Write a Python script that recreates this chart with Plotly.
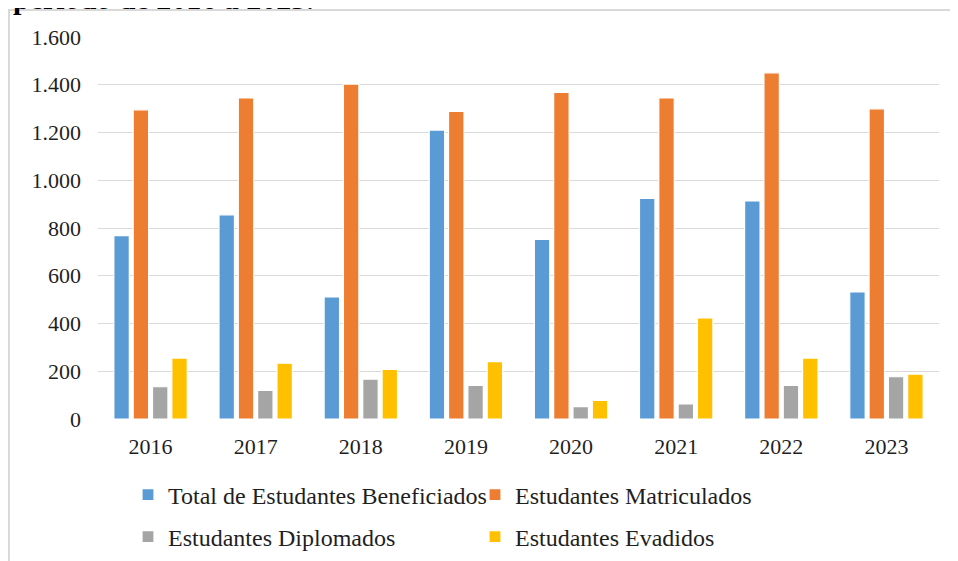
import plotly.graph_objects as go

anos = ["2016", "2017", "2018", "2019", "2020", "2021", "2022", "2023"]
beneficiados = [768, 855, 511, 1210, 752, 924, 913, 532]
matriculados = [1295, 1345, 1403, 1288, 1368, 1345, 1450, 1299]
diplomados = [135, 120, 167, 141, 52, 63, 141, 177]
evadidos = [255, 234, 208, 240, 78, 423, 255, 188]
y_ticks = [0, 200, 400, 600, 800, 1000, 1200, 1400, 1600]

series = [
    ("Total de Estudantes Beneficiados", beneficiados, "#5B9BD5", "legend"),
    ("Estudantes Matriculados", matriculados, "#ED7D31", "legend2"),
    ("Estudantes Diplomados", diplomados, "#A5A5A5", "legend3"),
    ("Estudantes Evadidos", evadidos, "#FFC000", "legend4"),
]

# the page body adds an 8px offset; work in page pixels and convert
OFF = 8
W, H = 958 - OFF, 561 - OFF
PLOT_L, PLOT_R, PLOT_T, PLOT_B = 98, 939, 37, 419   # page pixels
L = PLOT_L - OFF
R = W - (PLOT_R - OFF)
T = PLOT_T - OFF
B = H - (PLOT_B - OFF)
pw, ph = W - L - R, H - T - B

def px(xp):
    return (xp - OFF - L) / pw

def py(yp):
    return (PLOT_B - yp) / ph

FONT = "Liberation Serif, Times New Roman, serif"
TXT = "#1f1f1f"

fig = go.Figure()
for name, vals, color, lg in series:
    fig.add_trace(go.Bar(
        x=anos, y=vals, name=name, legend=lg, showlegend=True,
        marker=dict(color=color, line=dict(color="white", width=1.2)),
    ))

leg_common = dict(orientation="h", xanchor="left", yanchor="middle",
                  font=dict(family=FONT, size=24, color=TXT),
                  bgcolor="rgba(0,0,0,0)", borderwidth=0, itemwidth=30,
                  visible=True)

fig.update_layout(
    width=W, height=H,
    margin=dict(l=L, r=R, t=T, b=B, autoexpand=False),
    paper_bgcolor="white", plot_bgcolor="white",
    separators=",.",
    showlegend=True,
    barmode="group", bargap=0.265, bargroupgap=0.2,
    font=dict(family=FONT, size=22, color=TXT),
    xaxis=dict(showgrid=False, showline=False, ticks="", ticklabelstandoff=12,
               tickfont=dict(family=FONT, size=22, color=TXT)),
    yaxis=dict(range=[0, 1600], tickvals=y_ticks, tickformat=",d",
               showgrid=True, gridcolor="#d9d9d9", gridwidth=1.3,
               zeroline=False, showline=False, ticks="", ticklabelstandoff=16,
               tickfont=dict(family=FONT, size=22, color=TXT)),
    legend=dict(x=px(128), y=py(495), **leg_common),
    legend2=dict(x=px(475), y=py(495), **leg_common),
    legend3=dict(x=px(128), y=py(537), **leg_common),
    legend4=dict(x=px(475), y=py(537), **leg_common),
    shapes=[dict(type="rect", xref="paper", yref="paper",
                 x0=px(9), x1=px(980), y0=py(620), y1=py(10),
                 line=dict(color="#d9d9d9", width=2), fillcolor="rgba(0,0,0,0)",
                 layer="below")],
    annotations=[dict(text="<b>período de 2016 a 2023.</b>", xref="paper", yref="paper",
                      x=px(11), y=py(17), xanchor="left", yanchor="bottom",
                      showarrow=False, font=dict(family=FONT, size=30, color="black"))],
)

fig.write_html("out.html")
